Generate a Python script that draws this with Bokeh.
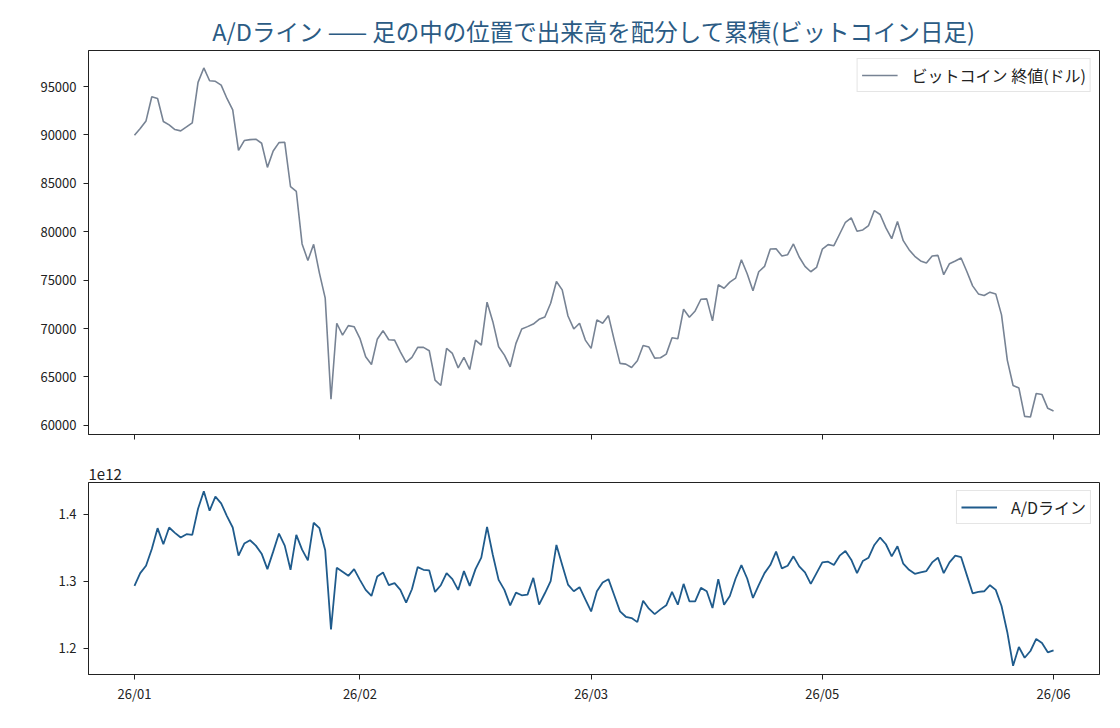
import numpy as np
from bokeh.plotting import figure
from bokeh.layouts import column
from bokeh.models import Range1d, FixedTicker, Title, CustomLabelingPolicy
from bokeh.embed import file_html
from bokeh.resources import INLINE

# ビットコイン日足 終値 (USD)
close_usd = [
    89970, 90665, 91450, 93940, 93770, 91390, 91040, 90560, 90420, 90830,
    91250, 95430, 96920, 95600, 95540, 95150, 93770, 92590, 88410, 89420,
    89520, 89560, 89140, 86650, 88340, 89210, 89240, 84650, 84160, 78740,
    77040, 78700, 75730, 73140, 62700, 70550, 69330, 70300, 70190, 68990,
    67080, 66290, 68890, 69780, 68850, 68810, 67600, 66500, 67020, 68060,
    68060, 67710, 64670, 64120, 67950, 67430, 65940, 67020, 65770, 68810,
    68300, 72720, 70710, 68120, 67260, 66050, 68470, 69960, 70200, 70470,
    70960, 71200, 72620, 74860, 74000, 71300, 69960, 70550, 68810, 67950,
    70900, 70550, 71340, 68810, 66400, 66330, 65980, 66670, 68260, 68090,
    66950, 66980, 67360, 69050, 68950, 72000, 71170, 71820, 73030, 73070,
    70790, 74520, 74170, 74800, 75210, 77110, 75660, 73900, 75870, 76420,
    78220, 78250, 77500, 77630, 78740, 77390, 76420, 75870, 76310, 78200,
    78670, 78560, 79770, 80980, 81430, 80050, 80190, 80640, 82190, 81780,
    80400, 79290, 81050, 79080, 78150, 77460, 76980, 76770, 77500, 77560,
    75560, 76700, 76980, 77290, 75900, 74410, 73580, 73410, 73760, 73580,
    71410, 66740, 64120, 63870, 60930, 60860, 63290, 63180, 61760, 61480,
]

# A/Dライン (1e12 単位で読み取り)
ad_e12 = [
    1.293, 1.312, 1.323, 1.348, 1.379, 1.355, 1.380, 1.372, 1.365, 1.370,
    1.369, 1.408, 1.434, 1.405, 1.426, 1.416, 1.397, 1.380, 1.338, 1.356,
    1.361, 1.353, 1.341, 1.318, 1.344, 1.371, 1.353, 1.317, 1.369, 1.347,
    1.331, 1.387, 1.379, 1.346, 1.228, 1.320, 1.314, 1.308, 1.318, 1.302,
    1.287, 1.278, 1.307, 1.313, 1.294, 1.297, 1.287, 1.268, 1.288, 1.321,
    1.317, 1.316, 1.284, 1.294, 1.312, 1.303, 1.287, 1.315, 1.293, 1.318,
    1.335, 1.381, 1.339, 1.302, 1.287, 1.264, 1.283, 1.279, 1.280, 1.305,
    1.265, 1.282, 1.300, 1.354, 1.324, 1.295, 1.285, 1.291, 1.273, 1.255,
    1.285, 1.298, 1.303, 1.279, 1.255, 1.247, 1.245, 1.239, 1.271, 1.259,
    1.251, 1.258, 1.264, 1.284, 1.265, 1.296, 1.270, 1.270, 1.290, 1.285,
    1.260, 1.303, 1.265, 1.278, 1.304, 1.324, 1.304, 1.275, 1.294, 1.312,
    1.324, 1.344, 1.319, 1.323, 1.337, 1.322, 1.313, 1.296, 1.312, 1.328,
    1.329, 1.324, 1.338, 1.345, 1.332, 1.312, 1.330, 1.335, 1.354, 1.365,
    1.355, 1.337, 1.352, 1.326, 1.317, 1.311, 1.313, 1.315, 1.328, 1.335,
    1.312, 1.328, 1.338, 1.336, 1.309, 1.282, 1.284, 1.285, 1.294, 1.287,
    1.263, 1.224, 1.174, 1.202, 1.186, 1.196, 1.214, 1.208, 1.194, 1.197,
]
ad_line = np.array(ad_e12) * 1e12

tick_idx = [0, 39, 79, 119, 159]
tick_labels = ["26/01", "26/02", "26/03", "26/05", "26/06"]

FONT = "Noto Sans CJK JP"
x = np.arange(len(close_usd))


def pad(lo, hi):
    m = (hi - lo) * 0.05
    return lo - m, hi + m


def style(p, y_ticks):
    p.xgrid.visible = False
    p.ygrid.visible = False
    p.outline_line_color = "#222222"
    p.outline_line_width = 1
    for ax in (p.xaxis, p.yaxis):
        ax.axis_line_color = "#222222"
        ax.major_tick_line_color = "#222222"
        ax.major_tick_in = 0
        ax.major_tick_out = 5
        ax.minor_tick_line_color = None
        ax.major_label_text_font = FONT
        ax.major_label_text_font_size = "13px"
        ax.major_label_text_color = "#222222"
    p.xaxis.major_label_standoff = 4
    p.yaxis.major_label_standoff = 7
    p.xaxis.ticker = FixedTicker(ticks=tick_idx)
    p.xaxis.major_label_overrides = dict(zip(tick_idx, tick_labels))
    p.yaxis.ticker = FixedTicker(ticks=y_ticks)
    p.yaxis.formatter.use_scientific = False


def style_legend(p):
    lg = p.legend[0]
    lg.location = "top_right"
    lg.margin = 8
    lg.padding = 4
    lg.label_text_font = FONT
    lg.label_text_font_size = "16px"
    lg.label_text_color = "#222222"
    lg.border_line_color = "#cccccc"
    lg.background_fill_alpha = 0.8
    lg.glyph_width = 36
    lg.label_standoff = 14


x_range = Range1d(*pad(0, len(x) - 1))

p1 = figure(width=1112, height=448, x_range=x_range,
            y_range=Range1d(*pad(min(close_usd), max(close_usd))),
            output_backend="svg", toolbar_location=None,
            min_border_left=88, min_border_right=13,
            min_border_top=50, min_border_bottom=14,
            title="A/Dライン —— 足の中の位置で出来高を配分して累積(ビットコイン日足)")
p1.title.align = "center"
p1.title.text_font = FONT
p1.title.text_font_size = "23.5px"
p1.title.text_font_style = "normal"
p1.title.text_color = "#2b5b84"
p1.title.standoff = 6
p1.line(x, close_usd, line_color="#778394", line_width=1.6,
        legend_label="ビットコイン 終値(ドル)")
style(p1, list(range(60000, 100000, 5000)))
# top panel shares the x axis: tick marks only, no labels
p1.xaxis.major_label_policy = CustomLabelingPolicy(
    code="for (const i of Array.from(indices)) { indices.unset(i) }\nreturn indices")
p1.xaxis.major_label_text_font_size = "1px"
p1.xaxis.major_label_standoff = 0
style_legend(p1)

ad_scaled = ad_line / 1e12
p2 = figure(width=1112, height=272, x_range=x_range,
            y_range=Range1d(*pad(ad_scaled.min(), ad_scaled.max())),
            output_backend="svg", toolbar_location=None,
            min_border_left=88, min_border_right=13,
            min_border_top=34, min_border_bottom=46)
p2.add_layout(Title(text="1e12", align="left", text_font=FONT,
                    text_font_size="15px", text_font_style="normal",
                    text_color="#222222", standoff=6), "above")
p2.line(x, ad_scaled, line_color="#1f5b8c", line_width=1.8,
        legend_label="A/Dライン")
style(p2, [1.2, 1.3, 1.4])
style_legend(p2)

layout = column(p1, p2)
open("out.html", "w").write(file_html(layout, INLINE))
